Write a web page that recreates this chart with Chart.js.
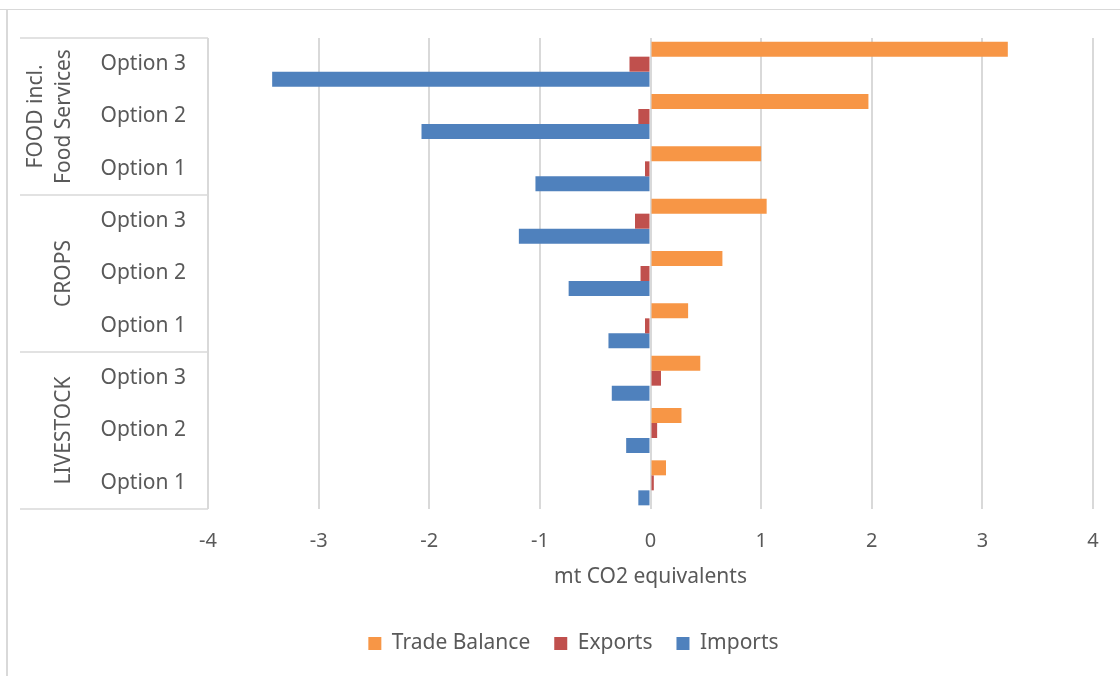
<!DOCTYPE html>
<html>
<head>
<meta charset="utf-8">
<script src="https://cdn.jsdelivr.net/npm/chart.js@4.4.0/dist/chart.umd.min.js"></script>
<style>
html,body{margin:0;padding:0;background:#fff;}
#wrap{width:1120px;height:676px;position:relative;}
</style>
</head>
<body>
<div id="wrap"><canvas id="chart"></canvas></div>
<script>
// categories, top to bottom
const groupNames = [['FOOD incl.', 'Food Services'], ['CROPS'], ['LIVESTOCK']];
const optionNames = ['Option 3', 'Option 2', 'Option 1'];
const labels = groupNames.flatMap(() => optionNames);

// mt CO2 equivalents
const tradeBalance = [3.23, 1.97, 1.00, 1.05, 0.65, 0.34, 0.45, 0.28, 0.14];
const exportsVals  = [-0.19, -0.11, -0.05, -0.14, -0.09, -0.05, 0.095, 0.06, 0.03];
const importsVals  = [-3.42, -2.07, -1.04, -1.19, -0.74, -0.38, -0.35, -0.22, -0.11];

const xMin = -4, xMax = 4, xStep = 1;

const FONT = '"Noto Sans", sans-serif';
const TEXT = '#595959';
const LINE = '#d9d9d9';

// group labels + separator lines to the left of the option labels
const groupAxis = {
  id: 'groupAxis',
  afterDraw(chart){
    const ctx = chart.ctx;
    const y = chart.scales.y;
    const area = chart.chartArea;
    const per = optionNames.length;
    const half = (y.getPixelForValue(1) - y.getPixelForValue(0)) / 2;

    ctx.save();
    // outer frame (top + left)
    ctx.strokeStyle = LINE;
    ctx.lineWidth = 1;
    ctx.beginPath();
    ctx.moveTo(0, 9.5); ctx.lineTo(chart.width, 9.5);
    ctx.stroke();
    ctx.lineWidth = 2;
    ctx.beginPath();
    ctx.moveTo(7, 9); ctx.lineTo(7, chart.height);
    ctx.stroke();

    // separators
    ctx.lineWidth = 1.5;
    for (let g = 0; g <= groupNames.length; g++) {
      let py;
      if (g === 0) py = area.top;
      else if (g === groupNames.length) py = area.bottom;
      else py = y.getPixelForValue(g * per) - half;
      ctx.beginPath();
      ctx.moveTo(20, py); ctx.lineTo(area.left, py);
      ctx.stroke();
    }

    // rotated group names
    ctx.fillStyle = TEXT;
    ctx.font = '21px ' + FONT;
    ctx.textAlign = 'center';
    ctx.textBaseline = 'middle';
    groupNames.forEach((lines, g) => {
      const top = y.getPixelForValue(g * per) - half;
      const bot = y.getPixelForValue(g * per + per - 1) + half;
      const cy = (top + bot) / 2;
      lines.forEach((txt, i) => {
        const cx = 64 - (lines.length - 1 - i) * 28;
        ctx.save();
        ctx.translate(cx, cy);
        ctx.rotate(-Math.PI / 2);
        ctx.fillText(txt, 0, 0);
        ctx.restore();
      });
    });
    ctx.restore();
  }
};

new Chart(document.getElementById('chart'), {
  type: 'bar',
  data: {
    labels: labels,
    datasets: [
      {label: 'Trade Balance', data: tradeBalance, backgroundColor: '#F79646'},
      {label: 'Exports', data: exportsVals, backgroundColor: '#C0504D'},
      {label: 'Imports', data: importsVals, backgroundColor: '#4F81BD'}
    ]
  },
  options: {
    indexAxis: 'y',
    responsive: true,
    maintainAspectRatio: false,
    animation: false,
    categoryPercentage: 0.86,
    barPercentage: 1,
    layout: {padding: {left: 54, top: 38, right: 27, bottom: 12}},
    plugins: {
      tooltip: {enabled: false},
      legend: {
        position: 'bottom',
        labels: {
          font: {family: FONT, size: 21},
          color: TEXT,
          boxWidth: 13,
          boxHeight: 13,
          padding: 24
        }
      }
    },
    scales: {
      x: {
        min: xMin, max: xMax,
        ticks: {stepSize: xStep, font: {family: FONT, size: 20}, color: TEXT, padding: 20},
        grid: {color: LINE, lineWidth: 2, drawTicks: false},
        border: {display: false},
        title: {
          display: true,
          text: 'mt CO2 equivalents',
          font: {family: FONT, size: 21},
          color: TEXT,
          padding: {top: 0, bottom: 19}
        },
        afterFit(s){ s.height = 100; }
      },
      y: {
        ticks: {font: {family: FONT, size: 21}, color: TEXT, padding: 14},
        grid: {display: false},
        border: {display: false},
        afterFit(s){ s.width = 154; }
      }
    }
  },
  plugins: [groupAxis]
});
</script>
</body>
</html>
